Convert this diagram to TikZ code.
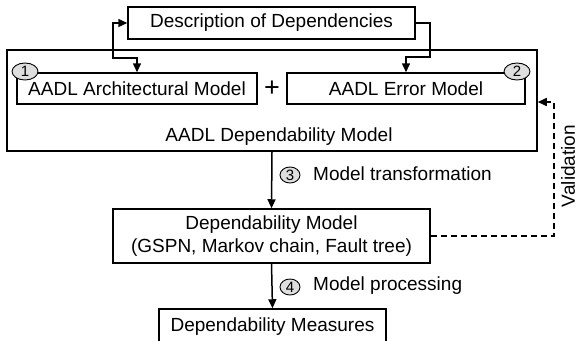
\documentclass[tikz,border=0pt]{standalone}
\usepackage{fontspec}
\setmainfont{Liberation Sans}
\usetikzlibrary{shapes.geometric,arrows.meta,calc}
\begin{document}
\begin{tikzpicture}[x=1pt,y=-1pt,
  every node/.style={font=\fontsize{19}{23}\selectfont},
  box/.style={draw,line width=1.5pt,inner sep=0pt,fill=white},
  num/.style={draw,ellipse,fill=black!13,line width=0.9pt,inner sep=0pt,font=\fontsize{15}{15}\selectfont},
  conn/.style={line width=1.5pt,-{Triangle[length=9pt,width=8pt]}},
  lbl/.style={anchor=west,inner sep=0pt}]
\clip (0,0) rectangle (580,340);
\fill[white] (0,0) rectangle (580,340);
% boxes
\node[box,minimum width=287pt,minimum height=32pt] (desc) at (271.5,23) {Description of Dependencies};
\node[box,minimum width=530pt,minimum height=101pt] (big) at (272,100.5) {};
\node[box,minimum width=240pt,minimum height=31pt] (arch) at (137,88.5) {AADL Architectural Model};
\node[box,minimum width=238pt,minimum height=31pt] (err) at (406,88.5) {AADL Error Model};
\node[font=\fontsize{27}{27}\selectfont,inner sep=0pt] (plus) at (272,89) {+};
\node (deplbl) at (279,137) {AADL Dependability Model};
\node[box,minimum width=317pt,minimum height=54pt,align=center] (dm) at (271.5,236) {Dependability Model\\(GSPN, Markov chain, Fault tree)};
\node[box,minimum width=227pt,minimum height=38pt,text depth=0pt] (meas) at (272.5,328) {};
\node (meastxt) at (272.5,327) {Dependability Measures};
% numbers
\node[num,minimum width=26pt,minimum height=17pt] (n1) at (25,71.5) {1};
\node[num,minimum width=26pt,minimum height=17pt] (n2) at (517,71.5) {2};
\node[num,minimum width=20pt,minimum height=16pt] (n3) at (290,175) {3};
\node[num,minimum width=20pt,minimum height=16pt] (n4) at (290,287) {4};
\node[lbl] (t3) at (313,174) {Model transformation};
\node[lbl] (t4) at (313,286) {Model processing};
\node[rotate=90,inner sep=0pt] (val) at (568,166) {Validation};
% connectors
\draw[conn,{Triangle[length=9pt,width=8pt]}-{Triangle[length=9pt,width=8pt]}] (desc.west) -| (113,58) -| (arch.north);
\draw[conn] (desc.east) -| (430,57) -| (err.north);
\draw[conn] (big.south) -- (dm.north);
\draw[conn] (dm.south) -- (meas.north);
\draw[conn,dash pattern=on 6pt off 4pt] (dm.east) -| ($(big.east)+(16,1.5)$) -- ($(big.east)+(0,1.5)$);
\end{tikzpicture}
\end{document}
